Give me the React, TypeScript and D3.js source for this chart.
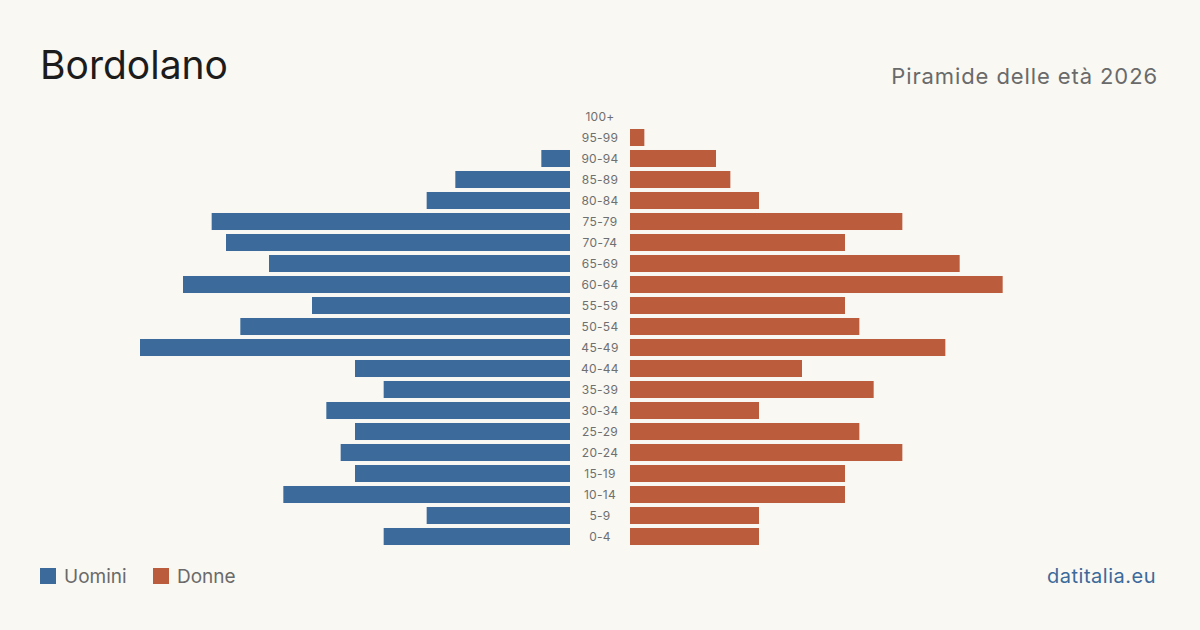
import { type FC } from 'react';
import * as d3 from 'd3';

const ageGroups = [
  '100+', '95-99', '90-94', '85-89', '80-84', '75-79', '70-74', '65-69', '60-64', '55-59',
  '50-54', '45-49', '40-44', '35-39', '30-34', '25-29', '20-24', '15-19', '10-14', '5-9', '0-4',
];
const maleValues = [0, 0, 2, 8, 10, 25, 24, 21, 27, 18, 23, 30, 15, 13, 17, 15, 16, 15, 20, 10, 13];
const femaleValues = [0, 1, 6, 7, 9, 19, 15, 23, 26, 15, 16, 22, 12, 17, 9, 16, 19, 15, 15, 9, 9];
const legendLabels = ['Uomini', 'Donne'];

const width = 1200;
const height = 630;
const bg = '#f9f8f3';
const maleColor = '#3b6a9b';
const femaleColor = '#bb5c3c';
const font = 'Inter, "Noto Sans", sans-serif';
const center = 600;
const gap = 30;

const App: FC = () => {
  const y = d3
    .scaleBand()
    .domain(ageGroups)
    .range([106, 547])
    .paddingInner(0.19)
    .paddingOuter(0.095);
  const x = d3.scaleLinear().domain([0, 30]).range([0, 430]);

  return (
    <svg
      width={width}
      height={height}
      style={{ position: 'absolute', left: 0, top: 0, display: 'block' }}
    >
      <rect width={width} height={height} fill={bg} />
      <text x={40} y={79} fontFamily={font} fontSize={39} fill="#1c1c1c">
        Bordolano
      </text>
      <text
        x={1158}
        y={84}
        fontFamily={font}
        fontSize={22}
        fill="#6a6a6a"
        textAnchor="end"
        letterSpacing={0.9}
      >
        Piramide delle età 2026
      </text>

      {ageGroups.map((age, i) => (
        <g key={age}>
          {maleValues[i] > 0 && (
            <rect
              x={center - gap - x(maleValues[i])}
              y={y(age)}
              width={x(maleValues[i])}
              height={y.bandwidth()}
              fill={maleColor}
            />
          )}
          {femaleValues[i] > 0 && (
            <rect
              x={center + gap}
              y={y(age)}
              width={x(femaleValues[i])}
              height={y.bandwidth()}
              fill={femaleColor}
            />
          )}
          <text
            x={center}
            y={y(age)! + y.bandwidth() / 2}
            dy="0.35em"
            textAnchor="middle"
            fontFamily={font}
            fontSize={12}
            fill="#6f6f6f"
            letterSpacing={0.3}
          >
            {age}
          </text>
        </g>
      ))}

      {/* legend */}
      <rect x={40} y={568} width={16} height={16} fill={maleColor} />
      <text x={64} y={583} fontFamily={font} fontSize={19} fill="#6a6a6a">
        {legendLabels[0]}
      </text>
      <rect x={153} y={568} width={16} height={16} fill={femaleColor} />
      <text x={177} y={583} fontFamily={font} fontSize={19} fill="#6a6a6a">
        {legendLabels[1]}
      </text>

      <text
        x={1156}
        y={583}
        fontFamily={font}
        fontSize={20}
        fill={maleColor}
        textAnchor="end"
        letterSpacing={0.5}
      >
        datitalia.eu
      </text>
    </svg>
  );
};

export default App;
